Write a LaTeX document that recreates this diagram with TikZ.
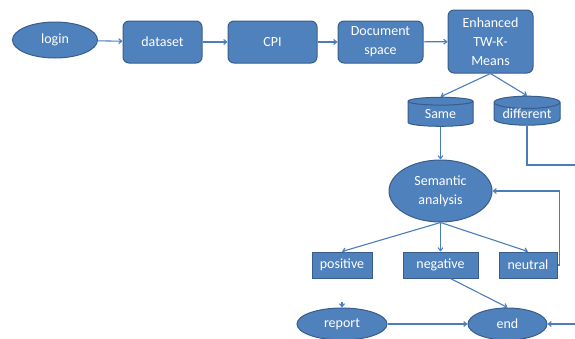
\documentclass[tikz,border=0pt]{standalone}
\usepackage{fontspec}
\setmainfont{Carlito}
\usetikzlibrary{shapes.geometric,arrows.meta}
\definecolor{fillb}{HTML}{4F81BD}
\definecolor{edgeb}{HTML}{385D8A}
\definecolor{lineb}{HTML}{4A7EBB}
\definecolor{topb}{HTML}{9DB9DB}
\tikzset{
  base/.style={fill=fillb,draw=edgeb,line width=1pt,text=white,font=\fontsize{14}{19}\selectfont,inner sep=0pt,align=center},
  rbox/.style={base,rectangle,rounded corners=6pt},
  sbox/.style={base,rectangle},
  oval/.style={base,ellipse},
  cyl/.style={base,cylinder,shape border rotate=90,aspect=0.25,cylinder uses custom fill,cylinder body fill=fillb,cylinder end fill=topb},
  conn/.style={draw=lineb,line width=1.1pt,-{Straight Barb[length=3pt,width=5pt]}},
  plain/.style={draw=lineb,line width=1.1pt}
}
\begin{document}
\begin{tikzpicture}[x=1pt,y=-1pt]
\useasboundingbox (0,0) rectangle (575,338);
\node[oval,minimum width=85pt,minimum height=36pt] (login) at (55,40) {login};
\node[rbox,minimum width=79pt,minimum height=42pt] (dataset) at (162.5,42) {dataset};
\node[rbox,minimum width=89pt,minimum height=42pt] (cpi) at (272.5,42) {CPI};
\node[rbox,minimum width=85pt,minimum height=42pt] (doc) at (380.5,42) {Document\\space};
\node[rbox,minimum width=85pt,minimum height=63pt] (enh) at (490.5,41.5) {Enhanced\\TW-K-\\Means};
\node[cyl,minimum width=65pt,minimum height=29pt] (same) at (440.5,114) {Same};
\node[cyl,minimum width=66pt,minimum height=29pt] (diff) at (527,114) {different};
\node[oval,minimum width=103pt,minimum height=62pt] (sem) at (440.5,191) {Semantic\\analysis};
\node[sbox,minimum width=60pt,minimum height=26pt] (pos) at (342,265) {positive};
\node[sbox,minimum width=75pt,minimum height=26pt] (neg) at (440.5,265) {negative};
\node[sbox,minimum width=58pt,minimum height=26pt] (neu) at (528,265) {neutral};
\node[oval,minimum width=90pt,minimum height=32pt] (rep) at (342,324) {report};
\node[oval,minimum width=79pt,minimum height=32pt] (end) at (507.5,324) {end};
\coordinate (dfar) at (575,165);
\coordinate (efar) at (575,324);
\coordinate (rtop) at (342,302);
\draw[conn] (login) -- (dataset);
\draw[conn] (dataset) -- (cpi);
\draw[conn] (cpi) -- (doc);
\draw[conn] (doc) -- (enh);
\draw[conn] (enh.south) -- (same.north);
\draw[conn] (enh.south) -- (diff.north);
\draw[conn] (same.south) -- (sem.north);
\draw[plain] (diff.south) |- (dfar);
\draw[conn] (sem.south) -- (pos.north);
\draw[conn] (sem.south) -- (neg.north);
\draw[conn] (sem.south) -- (neu.north);
\draw[conn] (neu.east) -- ++(2,0) |- (sem.east);
\draw[conn] ([xshift=10pt]neg.south) -- (end.north);
\draw[conn] (rep) -- (end);
\draw[conn] (efar) -- (end.east);
\draw[conn] (rtop) -- (rep.north);
\end{tikzpicture}
\end{document}
